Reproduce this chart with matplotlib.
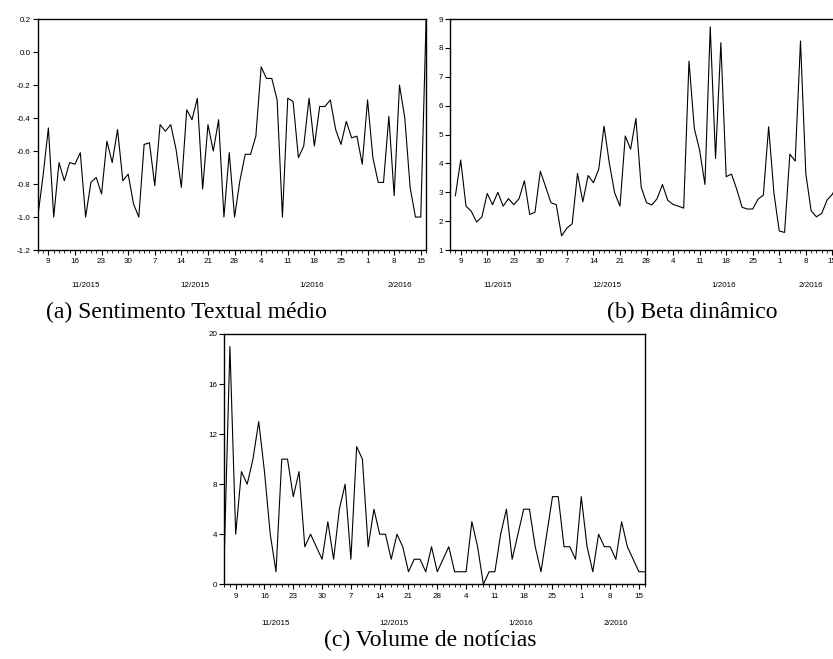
import numpy as np
import pandas as pd
import matplotlib
matplotlib.use("Agg")
from matplotlib import pyplot as plt
from matplotlib.ticker import FixedLocator, FormatStrFormatter
import matplotlib.transforms as mtransforms

# business-day sample, 5 Nov 2015 .. 16 Feb 2016
START = "2015-11-05"
END = "2016-02-16"

sentimento = [
    -1.00, -0.75, -0.46, -1.00, -0.67, -0.78, -0.67, -0.68, -0.61, -1.00,
    -0.79, -0.76, -0.86, -0.54, -0.67, -0.47, -0.78, -0.74, -0.92, -1.00,
    -0.56, -0.55, -0.81, -0.44, -0.48, -0.44, -0.59, -0.82, -0.35, -0.41,
    -0.28, -0.83, -0.44, -0.60, -0.41, -1.00, -0.61, -1.00, -0.78, -0.62,
    -0.62, -0.51, -0.09, -0.16, -0.16, -0.29, -1.00, -0.28, -0.30, -0.64,
    -0.57, -0.28, -0.57, -0.33, -0.33, -0.29, -0.47, -0.56, -0.42, -0.52,
    -0.51, -0.68, -0.29, -0.64, -0.79, -0.79, -0.39, -0.87, -0.20, -0.40,
    -0.82, -1.00, -1.00, 0.19,
]

beta = [
    np.nan, 2.88, 4.12, 2.52, 2.34, 1.97, 2.15, 2.96, 2.57, 3.00,
    2.52, 2.78, 2.57, 2.78, 3.40, 2.23, 2.31, 3.73, 3.19, 2.64,
    2.57, 1.49, 1.76, 1.91, 3.65, 2.67, 3.58, 3.33, 3.80, 5.29,
    4.00, 2.98, 2.52, 4.95, 4.49, 5.56, 3.17, 2.64, 2.56, 2.78,
    3.27, 2.72, 2.58, 2.52, 2.45, 7.54, 5.21, 4.46, 3.27, 8.73,
    4.17, 8.18, 3.54, 3.63, 3.10, 2.48, 2.42, 2.42, 2.76, 2.90,
    5.27, 2.96, 1.66, 1.61, 4.32, 4.08, 8.24, 3.65, 2.36, 2.15,
    2.27, 2.73, 2.93, 3.30,
]

volume = [
    2, 19, 4, 9, 8, 10, 13, 9, 4, 1,
    10, 10, 7, 9, 3, 4, 3, 2, 5, 2,
    6, 8, 2, 11, 10, 3, 6, 4, 4, 2,
    4, 3, 1, 2, 2, 1, 3, 1, 2, 3,
    1, 1, 1, 5, 3, 0, 1, 1, 4, 6,
    2, 4, 6, 6, 3, 1, 4, 7, 7, 3,
    3, 2, 7, 3, 1, 4, 3, 3, 2, 5,
    3, 2, 1, 1,
]

captions = ["(a) Sentimento Textual médio", "(b) Beta dinâmico", "(c) Volume de notícias"]

dates = pd.bdate_range(START, END)
x = np.arange(len(dates))

TICK_FONT = dict(family="Liberation Sans", size=5.8)


def style_axis(ax, yticks, yfmt):
    ax.set_xlim(0, len(dates) - 1)
    ax.set_ylim(yticks[0], yticks[-1])
    ax.yaxis.set_major_locator(FixedLocator(yticks))
    ax.yaxis.set_major_formatter(FormatStrFormatter(yfmt))

    mondays = [i for i, d in enumerate(dates) if d.weekday() == 0]
    ax.set_xticks(mondays)
    ax.set_xticklabels([str(dates[i].day) for i in mondays])
    ax.set_xticks(x, minor=True)

    ax.tick_params(axis="both", which="major", direction="out", length=3.5,
                   width=0.8, pad=1.5, labelsize=TICK_FONT["size"])
    ax.tick_params(axis="x", which="minor", direction="out", length=2, width=0.6)
    ax.tick_params(axis="x", which="major", pad=2.5)
    for lab in ax.get_xticklabels() + ax.get_yticklabels():
        lab.set_family(TICK_FONT["family"])
    for sp in ax.spines.values():
        sp.set_linewidth(1.0)

    # month labels centred under each month's span of observations
    trans = mtransforms.blended_transform_factory(ax.transData, ax.transAxes)
    months = pd.Series(x, index=dates).groupby(dates.to_period("M"))
    for per, idx in months:
        ax.text((idx.iloc[0] + idx.iloc[-1] + 1) / 2, -0.155, f"{per.month}/{per.year}",
                transform=trans, ha="center", va="center", clip_on=False, **TICK_FONT)


fig = plt.figure(figsize=(8.33, 6.59), dpi=100)

ax1 = fig.add_axes([0.0453, 0.6206, 0.4662, 0.3505])
ax1.plot(x, sentimento, color="black", lw=0.8)
style_axis(ax1, [-1.2, -1.0, -0.8, -0.6, -0.4, -0.2, 0.0, 0.2], "%.1f")

ax2 = fig.add_axes([0.5403, 0.6206, 0.4653, 0.3505])
ax2.plot(x, beta, color="black", lw=0.8)
style_axis(ax2, [1, 2, 3, 4, 5, 6, 7, 8, 9], "%d")

ax3 = fig.add_axes([0.2691, 0.1134, 0.5048, 0.3798])
ax3.plot(x, volume, color="black", lw=0.8)
style_axis(ax3, [0, 4, 8, 12, 16, 20], "%d")

cap_font = dict(family="Liberation Serif", size=17)
fig.text(186 / 833, 1 - 312 / 659, captions[0], ha="center", va="center", **cap_font)
fig.text(692 / 833, 1 - 312 / 659, captions[1], ha="center", va="center", **cap_font)
fig.text(430 / 833, 1 - 640 / 659, captions[2], ha="center", va="center", **cap_font)

fig.savefig("out.png", dpi=100)
